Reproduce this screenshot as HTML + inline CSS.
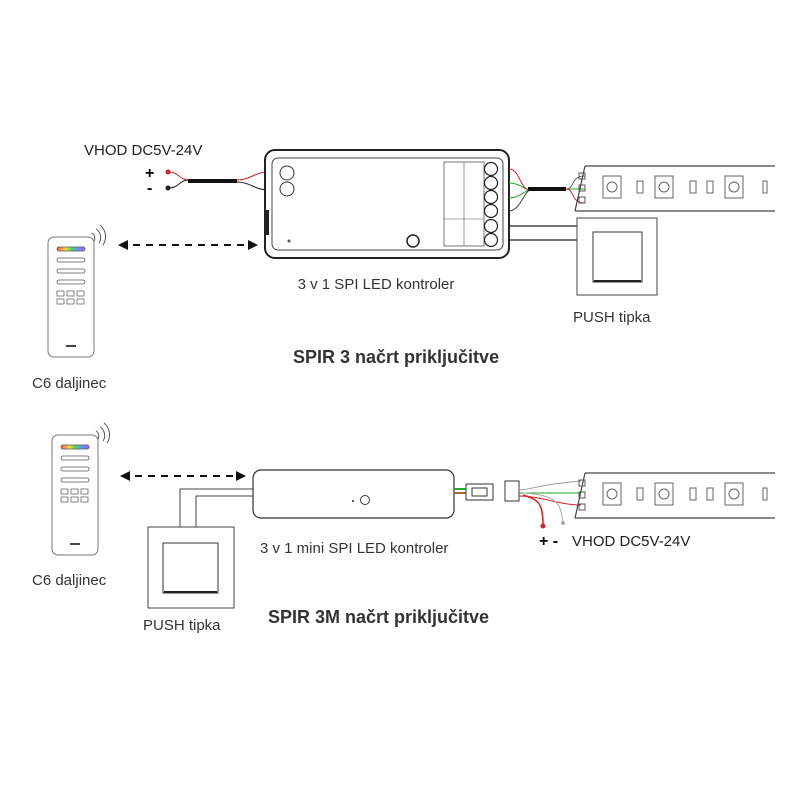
<!DOCTYPE html>
<html><head><style>
html,body{margin:0;padding:0;background:#fff;}
svg{display:block;}
text{font-family:"Liberation Sans",sans-serif;}
</style></head><body>
<svg width="800" height="800" viewBox="0 0 800 800" xmlns="http://www.w3.org/2000/svg">
<defs>
<linearGradient id="rb" x1="0" x2="1"><stop offset="0" stop-color="#f55"/><stop offset=".3" stop-color="#fd4"/><stop offset=".5" stop-color="#5d5"/><stop offset=".75" stop-color="#59f"/><stop offset="1" stop-color="#c5f"/></linearGradient>
<marker id="ah" markerUnits="userSpaceOnUse" markerWidth="10" markerHeight="10" refX="8" refY="5" orient="auto-start-reverse"><path d="M0,0 L10,5 L0,10z" fill="#111"/></marker>
<g id="remote">
<rect x="0" y="0" width="46" height="120" rx="6" fill="#fff" stroke="#777" stroke-width="1"/>
<rect x="9" y="10" width="28" height="4" rx="2" fill="url(#rb)" stroke="#555" stroke-width=".8"/>
<rect x="9" y="21" width="28" height="4" rx="2" fill="#fff" stroke="#555" stroke-width=".8"/>
<rect x="9" y="32" width="28" height="4" rx="2" fill="#fff" stroke="#555" stroke-width=".8"/>
<rect x="9" y="43" width="28" height="4" rx="2" fill="#fff" stroke="#555" stroke-width=".8"/>
<rect x="9" y="54" width="7" height="5" fill="none" stroke="#555" stroke-width=".7"/><rect x="19" y="54" width="7" height="5" fill="none" stroke="#555" stroke-width=".7"/><rect x="29" y="54" width="7" height="5" fill="none" stroke="#555" stroke-width=".7"/>
<rect x="9" y="62" width="7" height="5" fill="none" stroke="#555" stroke-width=".7"/><rect x="19" y="62" width="7" height="5" fill="none" stroke="#555" stroke-width=".7"/><rect x="29" y="62" width="7" height="5" fill="none" stroke="#555" stroke-width=".7"/>
<rect x="18" y="108" width="10" height="2" fill="#444"/>
<path d="M44,-4 a6,6 0 0 1 2,8 M48,-8 a10,10 0 0 1 3,14 M52,-12 a15,15 0 0 1 3,20" fill="none" stroke="#555" stroke-width="1"/>
</g>
<g id="strip">
<path d="M10,0 L200,0 M0,45 L200,45 M10,0 L0,45" fill="none" stroke="#444" stroke-width="1.2"/>
<rect x="4" y="7" width="6" height="6" fill="none" stroke="#555"/><rect x="4" y="19" width="6" height="6" fill="none" stroke="#555"/><rect x="4" y="31" width="6" height="6" fill="none" stroke="#555"/>
<rect x="28" y="10" width="18" height="22" fill="none" stroke="#666"/><circle cx="37" cy="21" r="5" fill="none" stroke="#666"/>
<rect x="62" y="15" width="6" height="12" fill="none" stroke="#666"/>
<rect x="80" y="10" width="18" height="22" fill="none" stroke="#666"/><circle cx="89" cy="21" r="5" fill="none" stroke="#666"/>
<rect x="115" y="15" width="6" height="12" fill="none" stroke="#666"/><rect x="132" y="15" width="6" height="12" fill="none" stroke="#666"/>
<rect x="150" y="10" width="18" height="22" fill="none" stroke="#666"/><circle cx="159" cy="21" r="5" fill="none" stroke="#666"/>
<rect x="188" y="15" width="4" height="12" fill="none" stroke="#666"/>
</g>
</defs>

<!-- TOP -->
<text x="84" y="155" font-size="15" fill="#222">VHOD  DC5V-24V</text>
<text x="145" y="178" font-size="16" font-weight="bold">+</text>
<text x="147" y="193" font-size="16" font-weight="bold">-</text>
<circle cx="168" cy="172" r="2.5" fill="#d22"/><circle cx="168" cy="188" r="2.5" fill="#222"/>
<path d="M168,172 C180,172 178,180 190,180" stroke="#d22" stroke-width="1" fill="none"/>
<path d="M168,188 C180,188 178,180 190,180" stroke="#222" stroke-width="1" fill="none"/>
<line x1="188" y1="181" x2="237" y2="181" stroke="#111" stroke-width="4"/>
<path d="M237,180 C250,180 255,172 268,172" stroke="#d22" fill="none"/>
<path d="M237,182 C250,182 255,190 268,190" stroke="#222" fill="none"/>
<rect x="265" y="150" width="244" height="108" rx="10" fill="#fff" stroke="#222" stroke-width="2"/>
<rect x="272" y="158" width="231" height="92" rx="6" fill="none" stroke="#444" stroke-width="1"/>
<circle cx="287" cy="173" r="7" fill="none" stroke="#333"/><circle cx="287" cy="189" r="7" fill="none" stroke="#333"/>
<circle cx="413" cy="241" r="6" fill="none" stroke="#222" stroke-width="1.5"/>
<circle cx="289" cy="241" r="1.5" fill="#555"/>
<rect x="444" y="162" width="40" height="84" fill="none" stroke="#555" stroke-width=".8"/>
<line x1="464" y1="162" x2="464" y2="246" stroke="#555" stroke-width=".6"/>
<line x1="444" y1="219" x2="484" y2="219" stroke="#555" stroke-width=".6"/>
<g fill="none" stroke="#222" stroke-width="1.2">
<circle cx="491" cy="169" r="6.5"/><circle cx="491" cy="183" r="6.5"/><circle cx="491" cy="197" r="6.5"/><circle cx="491" cy="211" r="6.5"/><circle cx="491" cy="226" r="6.5"/><circle cx="491" cy="240" r="6.5"/>
</g>
<rect x="265" y="210" width="4" height="25" fill="#222"/>
<path d="M509,183 C520,183 525,190 530,190 M509,198 C520,198 525,190 530,190" stroke="#2a2" fill="none"/>
<path d="M509,169 C520,169 520,190 530,190" stroke="#d22" fill="none"/>
<path d="M509,211 C520,211 525,190 530,190" stroke="#444" fill="none"/>
<line x1="528" y1="189" x2="566" y2="189" stroke="#111" stroke-width="4"/>
<path d="M566,189 L585,189" stroke="#2a2"/>
<path d="M566,189 C575,189 570,176 585,176" stroke="#666" fill="none"/>
<path d="M566,189 C575,189 570,203 585,203" stroke="#d22" fill="none"/>
<use href="#strip" x="575" y="166"/>
<path d="M509,226 L577,226 M509,240 L577,240" stroke="#222" stroke-width="1.2"/>
<rect x="577" y="218" width="80" height="77" fill="#fff" stroke="#444"/>
<rect x="593" y="232" width="49" height="50" fill="#fff" stroke="#333"/>
<line x1="594" y1="281" x2="641" y2="281" stroke="#222" stroke-width="2"/>
<line x1="120" y1="245" x2="256" y2="245" stroke="#111" stroke-width="2" stroke-dasharray="7,6" marker-start="url(#ah)" marker-end="url(#ah)"/>
<use href="#remote" x="48" y="237"/>
<text x="376" y="289" font-size="15" fill="#333" text-anchor="middle">3 v 1 SPI LED kontroler</text>
<text x="573" y="322" font-size="15" fill="#333">PUSH tipka</text>
<text x="293" y="363" font-size="18" font-weight="bold" fill="#333">SPIR 3 načrt priključitve</text>
<text x="32" y="388" font-size="15" fill="#333">C6 daljinec</text>

<!-- BOTTOM -->
<use href="#remote" x="52" y="435"/>
<line x1="122" y1="476" x2="244" y2="476" stroke="#111" stroke-width="2" stroke-dasharray="7,6" marker-start="url(#ah)" marker-end="url(#ah)"/>
<rect x="253" y="470" width="201" height="48" rx="8" fill="#fff" stroke="#333" stroke-width="1.2"/>
<circle cx="365" cy="500" r="4.5" fill="none" stroke="#333"/><circle cx="353" cy="501" r="1" fill="#333"/>
<path d="M253,489 L180,489 L180,527 M253,496 L196,496 L196,527" stroke="#444" fill="none"/>
<rect x="148" y="527" width="86" height="81" fill="#fff" stroke="#444"/>
<rect x="163" y="543" width="55" height="50" fill="#fff" stroke="#333"/>
<line x1="164" y1="592" x2="217" y2="592" stroke="#222" stroke-width="2"/>
<path d="M454,489 L466,489" stroke="#2a2" stroke-width="2"/><path d="M454,493 L466,493" stroke="#a63" stroke-width="2"/>
<rect x="466" y="484" width="27" height="16" fill="#fff" stroke="#333"/><rect x="472" y="488" width="15" height="8" fill="none" stroke="#333"/>
<rect x="505" y="481" width="14" height="20" fill="#fff" stroke="#333"/>
<path d="M519,490 C530,490 540,484 581,481" stroke="#999" fill="none"/>
<path d="M519,493 L581,493" stroke="#2a2" fill="none"/>
<path d="M519,496 C540,496 560,505 581,505" stroke="#d22" fill="none"/>
<path d="M523,495 C540,500 543,505 543,525" stroke="#d22" stroke-width="1.5" fill="none"/>
<path d="M523,493 C560,495 560,505 563,522" stroke="#aaa" fill="none"/>
<circle cx="543" cy="526" r="2.5" fill="#d22"/><circle cx="563" cy="523" r="2" fill="#aaa"/>
<use href="#strip" x="575" y="473"/>
<text x="539" y="546" font-size="16" font-weight="bold">+ -</text>
<text x="572" y="546" font-size="15" fill="#222">VHOD  DC5V-24V</text>
<text x="260" y="553" font-size="15" fill="#333">3 v 1 mini SPI LED kontroler</text>
<text x="32" y="585" font-size="15" fill="#333">C6 daljinec</text>
<text x="268" y="623" font-size="18" font-weight="bold" fill="#333">SPIR 3M načrt priključitve</text>
<text x="143" y="630" font-size="15" fill="#333">PUSH tipka</text>
</svg>
</body></html>
